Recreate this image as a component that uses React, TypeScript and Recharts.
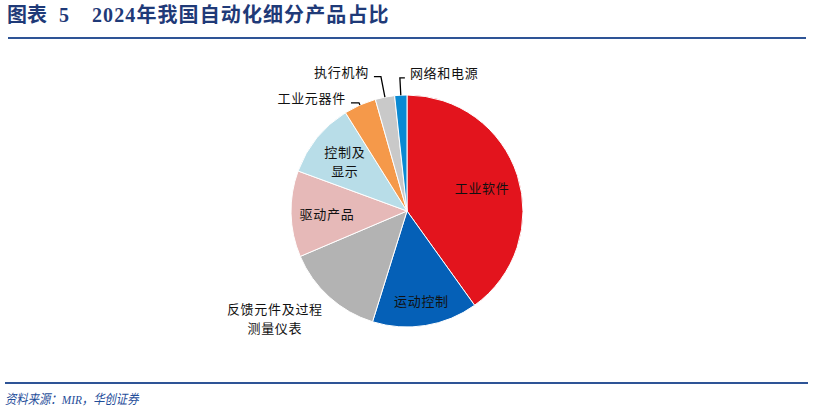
import React from 'react';
import { PieChart, Pie, Cell } from 'recharts';

// ---- data ----
const categories = ['工业软件', '运动控制', '反馈元件及过程测量仪表', '驱动产品', '控制及显示', '工业元器件', '执行机构', '网络和电源'];
const shares = [40.1, 14.7, 13.8, 12.0, 10.5, 4.5, 2.7, 1.7];
const labelText = [['工业软件'], ['运动控制'], ['反馈元件及过程', '测量仪表'], ['驱动产品'], ['控制及', '显示'], ['工业元器件'], ['执行机构'], ['网络和电源']];

const titleLead = '图表';
const titleNum = '5';
const titleMain = '2024年我国自动化细分产品占比';
const sourceText = '资料来源：MIR，华创证券';

// ---- styles ----
const COLORS = ['#E3141D', '#0560B7', '#B3B3B3', '#E6B9B8', '#B8DDE8', '#F5994A', '#C9C9C9', '#0A89D2'];
const NAVY = '#1F3A78';
const RULE = '#2E5496';
const LABEL_FONT = '"Noto Sans CJK SC", sans-serif';

type Layout =
  | { kind: 'inside'; r: number; dx?: number; dy?: number }
  | { kind: 'free'; r: number; dx: number; dy: number }
  | { kind: 'elbow'; r: number; h: number };

const LAYOUT: Layout[] = [
  { kind: 'inside', r: 0.68 },
  { kind: 'inside', r: 0.78 },
  { kind: 'free', r: 1.3, dx: -31, dy: -5 },
  { kind: 'inside', r: 0.69 },
  { kind: 'inside', r: 0.69 },
  { kind: 'elbow', r: 1.02, h: -8 },
  { kind: 'elbow', r: 1.18, h: -7 },
  { kind: 'elbow', r: 1.15, h: 5 },
];

const data = categories.map((name, i) => ({ name, value: shares[i] }));
const RAD = Math.PI / 180;
const LINE_H = 19;

function renderLabel(props: any) {
  const { cx, cy, midAngle, outerRadius, index } = props;
  const lay = LAYOUT[index];
  const lines = labelText[index];
  const a = -midAngle * RAD;
  const common = {
    fontFamily: LABEL_FONT,
    fontSize: 13,
    letterSpacing: 0.7,
    fill: '#111',
    dominantBaseline: 'central' as const,
  };
  if (lay.kind === 'inside' || lay.kind === 'free') {
    const x = cx + outerRadius * lay.r * Math.cos(a) + (lay.dx || 0);
    const y = cy + outerRadius * lay.r * Math.sin(a) + (lay.dy || 0);
    const y0 = y - ((lines.length - 1) * LINE_H) / 2;
    return (
      <text key={`lb-${index}`} {...common} textAnchor="middle">
        {lines.map((l, i) => (
          <tspan key={i} x={x} y={y0 + i * LINE_H}>
            {l}
          </tspan>
        ))}
      </text>
    );
  }
  const p0x = cx + outerRadius * Math.cos(a);
  const p0y = cy + outerRadius * Math.sin(a);
  const p1x = cx + outerRadius * lay.r * Math.cos(a);
  const p1y = cy + outerRadius * lay.r * Math.sin(a);
  const p2x = p1x + lay.h;
  const right = lay.h > 0;
  const tx = p2x + (right ? 5 : -5);
  return (
    <g key={`lb-${index}`}>
      <polyline
        points={`${p0x},${p0y} ${p1x},${p1y} ${p2x},${p1y}`}
        fill="none"
        stroke="#000"
        strokeWidth={1.3}
      />
      <text {...common} x={tx} y={p1y - 5} textAnchor={right ? 'start' : 'end'}>
        {lines[0]}
      </text>
    </g>
  );
}

export default function App() {
  return (
    <div
      style={{
        position: 'absolute',
        left: 0,
        top: 0,
        width: 814,
        height: 415,
        background: '#fff',
        overflow: 'hidden',
      }}
    >
      <div
        style={{
          position: 'absolute',
          left: 7,
          top: 4,
          height: 22,
          lineHeight: '22px',
          fontSize: 20,
          fontWeight: 'bold',
          color: NAVY,
          fontFamily: '"Liberation Serif", "Noto Sans CJK SC", serif',
          whiteSpace: 'nowrap',
        }}
      >
        <span>{titleLead}</span>
        <span style={{ position: 'absolute', left: 52 }}>{titleNum}</span>
        <span style={{ position: 'absolute', left: 85, letterSpacing: 1.1 }}>{titleMain}</span>
      </div>
      <div style={{ position: 'absolute', left: 8, top: 37, width: 798, height: 2, background: RULE }} />

      <div style={{ position: 'absolute', left: 0, top: 0 }}>
        <PieChart width={814} height={415} margin={{ top: 0, right: 0, bottom: 0, left: 0 }}>
          <Pie
            data={data}
            dataKey="value"
            nameKey="name"
            cx={407}
            cy={211}
            outerRadius={116}
            startAngle={90}
            endAngle={-270}
            stroke="#fff"
            strokeWidth={1}
            isAnimationActive={false}
            label={renderLabel}
            labelLine={false}
          >
            {data.map((d, i) => (
              <Cell key={d.name} fill={COLORS[i]} />
            ))}
          </Pie>
        </PieChart>
      </div>

      <div style={{ position: 'absolute', left: 5, top: 382, width: 803, height: 2, background: RULE }} />
      <div
        style={{
          position: 'absolute',
          left: 5,
          top: 391,
          lineHeight: '18px',
          fontSize: 13.5,
          fontStyle: 'italic',
          color: '#1F4E9A',
          fontFamily: '"Liberation Serif", "Noto Sans CJK SC", serif',
          whiteSpace: 'nowrap',
          transform: 'scaleX(0.84)',
          transformOrigin: 'left center',
        }}
      >
        {sourceText}
      </div>
    </div>
  );
}
